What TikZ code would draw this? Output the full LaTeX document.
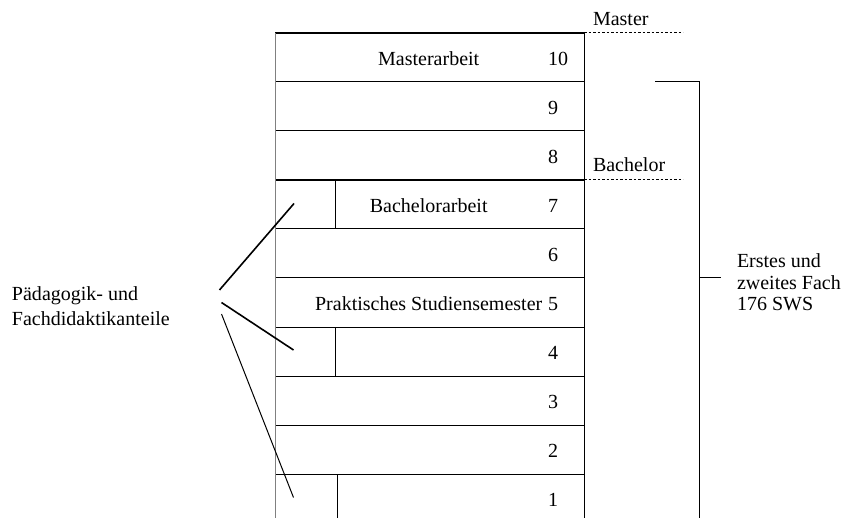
\documentclass[tikz,border=0pt]{standalone}
\usepackage{fontspec}
\setmainfont{Liberation Serif}
\begin{document}
\begin{tikzpicture}[x=1pt,y=-1pt,
  txt/.style={font=\fontsize{20}{22}\selectfont, inner sep=0pt, outer sep=0pt},
  num/.style={txt, anchor=base west},
  semrow/.style={draw, line width=1pt, minimum width=309pt, minimum height=49pt,
                 inner sep=0pt, outer sep=0pt, anchor=north west},
  heavy/.style={line width=2pt},
  lead/.style={line width=1.6pt},
  thinlead/.style={line width=1pt},
  level/.style={line width=1pt, dash pattern=on 2.5pt off 2pt}]
\clip (0,0) rectangle (845,518);
\useasboundingbox (0,0) rectangle (845,518);

% semester rows, 10 at the top down to 1
\foreach \s in {10,...,1}{
  \node[semrow] (r\s) at (275,{33+(10-\s)*49}) {};
  \node[num] (n\s) at (548,{33+(10-\s)*49+32.5}) {\s};
}
% heavier rules at the top of the master phase and the bachelor boundary
\draw[heavy] (r10.north west) -- (r10.north east);
\draw[heavy] (r7.north west) -- (r7.north east);
% lighter outer left edge
\draw[line width=1pt, gray] (r10.north west) -- (275,530);

% split cells for the pedagogy parts
\foreach \s in {7,4}{
  \draw[line width=1pt] (335,0 |- r\s.north) -- (335,0 |- r\s.south);
}
\draw[line width=1pt] (337,0 |- r1.north) -- (337,0 |- r1.south);

% titles inside the rows
\node[txt, anchor=base] (ma) at (428.7,65.5) {Masterarbeit};
\node[txt, anchor=base] (ba) at (428.7,212.5) {Bachelorarbeit};
\node[txt, anchor=base] (ps) at (428.7,310.5) {Praktisches Studiensemester};

% degree levels
\node[txt, anchor=base west] (master) at (593,26) {Master};
\coordinate (mEnd) at (683,33);
\draw[level] (r10.north east) -- (mEnd);
\node[txt, anchor=base west] (bachelor) at (593,171.5) {Bachelor};
\coordinate (bEnd) at (683,180);
\draw[level] (r7.north east) -- (bEnd);

% bracket for the two subjects
\node[txt, align=left, anchor=north west, font=\fontsize{20}{21.5}\selectfont] (fach) at (737,254)
  {Erstes und\\zweites Fach\\176 SWS};
\coordinate (brTop) at (655,82);
\coordinate (brCorner) at (699,82);
\coordinate (brBottom) at (699,530);
\coordinate (brMid) at (699,278);
\coordinate (tickEnd) at (721,278);
\draw[line width=1pt] (brTop) -- (brCorner) -- (brBottom);
\draw[line width=1pt] (brMid) -- (tickEnd);

% pedagogy label with leader lines
\node[txt, align=left, anchor=north west, font=\fontsize{20}{24.5}\selectfont] (paed) at (12,287)
  {Pädagogik- und\\Fachdidaktikanteile};
\coordinate (l1s) at (219.5,290);
\coordinate (l2s) at (221.5,302.5);
\coordinate (l3s) at (221.5,314);
\coordinate (l1e) at (294,203.5);
\coordinate (l2e) at (293.5,350);
\coordinate (l3e) at (293.5,497.5);
\draw[lead] (l1s) -- (l1e);
\draw[lead] (l2s) -- (l2e);
\draw[thinlead] (l3s) -- (l3e);
\end{tikzpicture}
\end{document}
